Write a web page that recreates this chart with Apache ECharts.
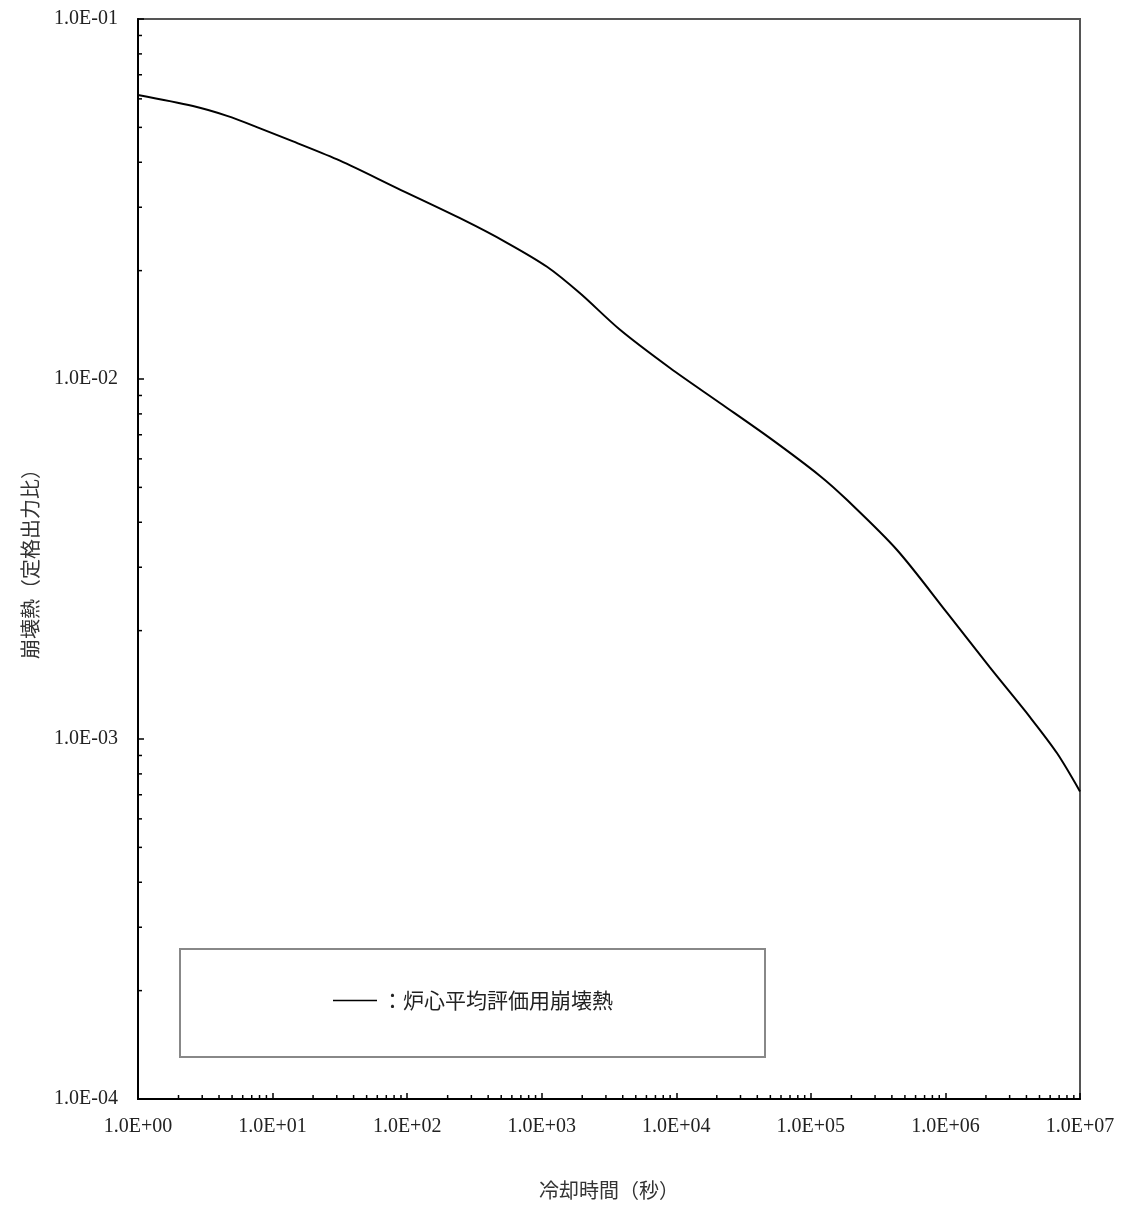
<!DOCTYPE html>
<html>
<head>
<meta charset="utf-8">
<script src="https://cdn.jsdelivr.net/npm/echarts@6/dist/echarts.min.js"></script>
<style>html,body{margin:0;padding:0;background:#fff;}#c{width:1131px;height:1208px;}</style>
</head>
<body>
<div id="c"></div>
<script>
// Cooling time (s)
const coolingTime = [1, 2.56, 4.59, 8.07, 14.2, 31.7, 84, 260, 552, 1095, 1927, 3820, 8980, 21100, 49700, 117000, 186000, 437000, 1.03e6, 2.14e6, 4.25e6, 6.74e6, 1.0e7];
// Decay heat (fraction of rated power)
const decayHeat = [0.0615, 0.0573, 0.0538, 0.0497, 0.0457, 0.0404, 0.0339, 0.0277, 0.0239, 0.0205, 0.0173, 0.0137, 0.01073, 0.00858, 0.00685, 0.00538, 0.00461, 0.00335, 0.00224, 0.00158, 0.00115, 0.000914, 0.000715];
const seriesName = '炉心平均評価用崩壊熱';
const xName = '冷却時間（秒）';
const yName = '崩壊熱（定格出力比）';
const xMin = 1, xMax = 1e7, yMin = 1e-4, yMax = 1e-1;

function sciLabel(v) {
  const e = Math.round(Math.log10(v));
  const sign = e < 0 ? '-' : '+';
  const a = Math.abs(e);
  return '1.0E' + sign + (a < 10 ? '0' : '') + a;
}
function minorValues(lo, hi) {
  const out = [];
  for (let k = Math.round(Math.log10(lo)); k < Math.round(Math.log10(hi)); k++) {
    for (let m = 2; m <= 9; m++) out.push(m * Math.pow(10, k));
  }
  return out;
}
const xMinor = minorValues(xMin, xMax).map(v => [v, yMin]);
const yMinor = minorValues(yMin, yMax).map(v => [xMin, v]);

const numFont = '"Liberation Serif", "DejaVu Serif", serif';
const cjkFont = '"Noto Sans CJK JP", sans-serif';

const chart = echarts.init(document.getElementById('c'), null, {renderer: 'canvas'});
chart.setOption({
  backgroundColor: '#fff',
  animation: false,
  grid: {left: 138, right: 51, top: 19, bottom: 109, show: true, borderColor: '#555', borderWidth: 2, backgroundColor: 'transparent'},
  xAxis: {
    type: 'log', logBase: 10, min: xMin, max: xMax,
    name: xName, nameLocation: 'middle', nameGap: 81,
    nameTextStyle: {fontFamily: cjkFont, fontSize: 20, color: '#333'},
    axisLine: {show: true, onZero: false, lineStyle: {color: '#000', width: 2}},
    axisTick: {show: true, inside: true, length: 6, lineStyle: {color: '#000', width: 1.5}},
    axisLabel: {margin: 18, fontFamily: numFont, fontSize: 20, color: '#222', formatter: sciLabel},
    splitLine: {show: false}
  },
  yAxis: {
    type: 'log', logBase: 10, min: yMin, max: yMax,
    name: yName, nameLocation: 'middle', nameGap: 98,
    nameTextStyle: {fontFamily: cjkFont, fontSize: 20, color: '#333'},
    axisLine: {show: true, onZero: false, lineStyle: {color: '#000', width: 2}},
    axisTick: {show: true, inside: true, length: 6, lineStyle: {color: '#000', width: 1.5}},
    axisLabel: {margin: 20, fontFamily: numFont, fontSize: 20, color: '#222', formatter: sciLabel},
    splitLine: {show: false}
  },
  graphic: [{
    type: 'rect', left: 179, top: 948, silent: true, z: 5,
    shape: {width: 585, height: 108},
    style: {fill: '#fff', stroke: '#888', lineWidth: 2}
  }],
  legend: {
    data: [seriesName], left: 333, top: 990, padding: 0, z: 10,
    icon: 'rect', itemWidth: 44, itemHeight: 1.5,
    itemStyle: {color: '#000'},
    textStyle: {fontFamily: cjkFont, fontSize: 21, color: '#222'},
    formatter: n => '：' + n, selectedMode: false
  },
  series: [
    {
      name: seriesName, type: 'line', data: coolingTime.map((t, i) => [t, decayHeat[i]]),
      smooth: 0.3, symbol: 'none', lineStyle: {color: '#000', width: 2}, itemStyle: {color: '#000'}, z: 3
    },
    {
      type: 'custom', data: xMinor, silent: true, encode: {x: 0, y: 1},
      renderItem: (params, api) => {
        const p = api.coord([api.value(0), api.value(1)]);
        return {type: 'line', shape: {x1: p[0], y1: p[1], x2: p[0], y2: p[1] - 4}, style: {stroke: '#000', lineWidth: 1.5}};
      }
    },
    {
      type: 'custom', data: yMinor, silent: true, encode: {x: 0, y: 1},
      renderItem: (params, api) => {
        const p = api.coord([api.value(0), api.value(1)]);
        return {type: 'line', shape: {x1: p[0], y1: p[1], x2: p[0] + 4, y2: p[1]}, style: {stroke: '#000', lineWidth: 1.5}};
      }
    }
  ]
});
</script>
</body>
</html>
